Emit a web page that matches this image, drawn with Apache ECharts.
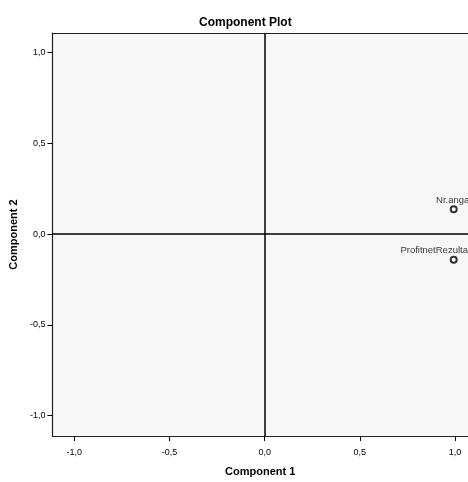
<!DOCTYPE html>
<html><head><meta charset="utf-8">
<script src="https://cdn.jsdelivr.net/npm/echarts@6/dist/echarts.min.js"></script>
<style>html,body{margin:0;padding:0;background:#fff}#c{width:468px;height:482px}</style>
</head><body><div id="c"></div>
<script>
const variableNames = ["Nr.angaj", "ProfitnetRezultatnetanual"];
const component1 = [0.993, 0.993];
const component2 = [0.137, -0.142];
const tickValues = [-1.0, -0.5, 0.0, 0.5, 1.0];
const xMin = -1.115, xMax = 1.068;
const yMin = -1.112, yMax = 1.107;

const fmt = v => v.toFixed(1).replace('.', ',');
const chart = echarts.init(document.getElementById('c'), null, {renderer: 'canvas'});
const font = 'Liberation Sans, Arial, sans-serif';
const narrow = '"Liberation Sans Narrow", "Arial Narrow", sans-serif';
const nameStyle = {fontSize: 11, fontWeight: 'bold', fontFamily: font, color: '#000'};
const lineSt = {color: '#222', width: 1.2};
function axis(min, max, extra) {
  return Object.assign({
    type: 'value', min: min, max: max,
    splitLine: {show: false},
    axisLine: {show: true, onZero: false, lineStyle: lineSt},
    axisTick: {show: true, customValues: tickValues, length: 5, lineStyle: {color: '#000', width: 1}},
    axisLabel: {customValues: tickValues, formatter: fmt, color: '#000', fontSize: 9, fontFamily: font}
  }, extra);
}
chart.setOption({
  animation: false,
  title: {text: 'Component Plot', left: 194, top: 12,
    textStyle: {fontSize: 12, fontWeight: 'bold', fontFamily: font, color: '#000'}},
  grid: {left: 51, top: 33, right: 0, bottom: 44, show: true, backgroundColor: '#f8f8f8', borderWidth: 0},
  xAxis: [
    axis(xMin, xMax, {name: 'Component 1', nameLocation: 'middle', nameGap: 30, nameTextStyle: nameStyle,
      axisLabel: {customValues: tickValues, formatter: fmt, color: '#000', fontSize: 9, fontFamily: font, margin: 12}}),
    axis(xMin, xMax, {position: 'top', axisTick: {show: false}, axisLabel: {show: false}})
  ],
  yAxis: axis(yMin, yMax, {name: 'Component 2', nameLocation: 'middle', nameGap: 25, nameTextStyle: nameStyle,
    axisLabel: {customValues: tickValues, formatter: fmt, color: '#000', fontSize: 9, fontFamily: font, margin: 7}}),
  series: [{
    type: 'scatter',
    data: component1.map((x, i) => [x, component2[i], variableNames[i]]),
    symbol: 'emptyCircle', symbolSize: 6,
    itemStyle: {color: '#000', borderColor: '#000', borderWidth: 0.9},
    label: {show: true, position: 'top', distance: 0, formatter: p => p.data[2], color: '#000', fontSize: 9.5, fontFamily: narrow},
    markLine: {silent: true, symbol: 'none', label: {show: false},
      lineStyle: {color: '#000', width: 1.5, type: 'solid'},
      data: [{xAxis: 0}, {yAxis: 0}]}
  }]
});
</script></body></html>
